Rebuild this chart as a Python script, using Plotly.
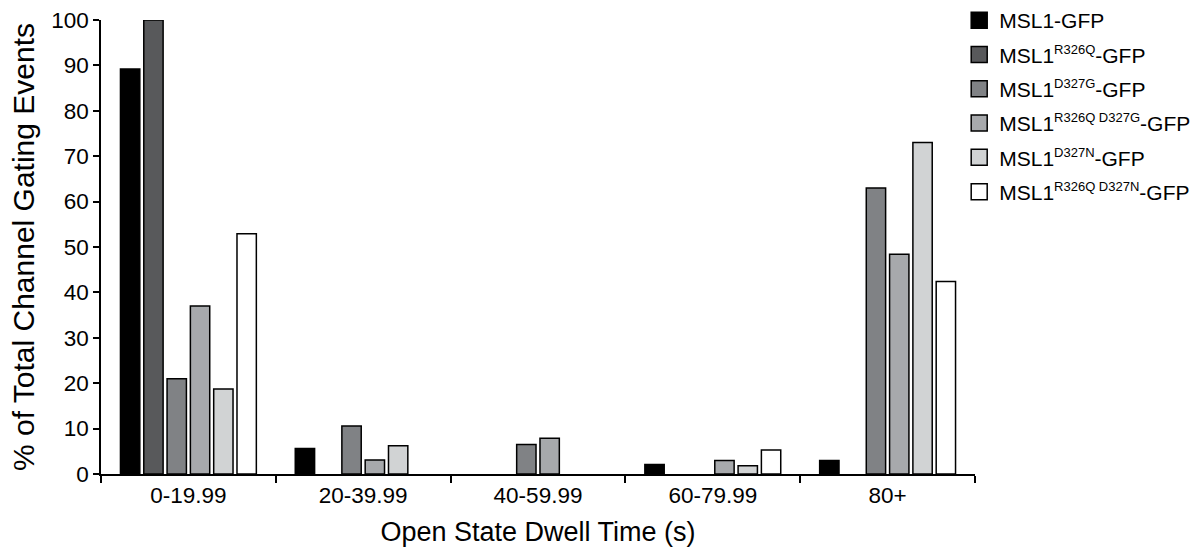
import plotly.graph_objects as go

categories = ["0-19.99", "20-39.99", "40-59.99", "60-79.99", "80+"]

series_names = [
    "MSL1-GFP",
    "MSL1<sup>R326Q</sup>-GFP",
    "MSL1<sup>D327G</sup>-GFP",
    "MSL1<sup>R326Q D327G</sup>-GFP",
    "MSL1<sup>D327N</sup>-GFP",
    "MSL1<sup>R326Q D327N</sup>-GFP",
]

msl1_gfp = [89.2, 5.6, 0, 2.1, 3.0]
r326q = [100, 0, 0, 0, 0]
d327g = [21.0, 10.6, 6.5, 0, 63.0]
r326q_d327g = [37.0, 3.1, 7.9, 3.0, 48.4]
d327n = [18.7, 6.2, 0, 1.8, 73.0]
r326q_d327n = [52.9, 0, 0, 5.3, 42.4]

series_values = [msl1_gfp, r326q, d327g, r326q_d327g, d327n, r326q_d327n]
colors = ["#000000", "#58595b", "#808285", "#a7a9ac", "#d1d3d4", "#ffffff"]

FONT = "Liberation Sans, Arial, Helvetica, sans-serif"


def legend_label(name):
    # smaller superscript, as in the reference legend
    return name.replace("<sup>", '<sup><span style="font-size:13px">').replace("</sup>", "</span></sup>")


fig = go.Figure()
for i, (name, vals, col) in enumerate(zip(series_names, series_values, colors)):
    # bars: outline hidden for empty (zero) bins
    fig.add_trace(go.Bar(
        x=categories, y=vals, name=name,
        marker=dict(color=col,
                    line=dict(color="#000000", width=[1.5 if v > 0 else 0 for v in vals])),
        legendgroup=f"g{i}", showlegend=False,
    ))
    # legend swatch for the same series
    fig.add_trace(go.Scatter(
        x=[None], y=[None], mode="markers", name=legend_label(name),
        marker=dict(symbol="square", size=16, color=col,
                    line=dict(color="#000000", width=1.5)),
        legendgroup=f"g{i}", showlegend=True,
    ))

fig.update_layout(
    width=1199, height=550, autosize=False,
    margin=dict(l=101, r=224, t=20, b=76, autoexpand=False),
    paper_bgcolor="white", plot_bgcolor="white",
    barmode="group", bargap=0.2, bargroupgap=0.17,
    font=dict(family=FONT, color="#000000"),
    showlegend=True,
    legend=dict(
        xref="container", yref="container",
        x=0.8, xanchor="left", y=1.0, yanchor="top",
        font=dict(size=21, family=FONT, color="#000000"),
        tracegroupgap=4, traceorder="grouped",
        itemsizing="trace",
        bgcolor="rgba(0,0,0,0)",
    ),
    xaxis=dict(
        automargin=False,
        showline=True, linecolor="#000000", linewidth=1.5,
        ticks="outside", ticklen=7, tickwidth=1.5, tickcolor="#000000",
        tickson="boundaries",
        tickfont=dict(size=22.5, family=FONT),
        title=dict(text="Open State Dwell Time (s)", font=dict(size=27, family=FONT), standoff=15),
        showgrid=False, zeroline=False,
    ),
    yaxis=dict(
        automargin=False,
        range=[0, 100], dtick=10, tick0=0,
        showline=True, linecolor="#000000", linewidth=1.5,
        ticks="outside", ticklen=6, tickwidth=1.5, tickcolor="#000000",
        tickfont=dict(size=22.5, family=FONT),
        title=dict(text="% of Total Channel Gating Events", font=dict(size=30, family=FONT), standoff=8),
        showgrid=False, zeroline=False,
    ),
)

fig.write_html("out.html")
